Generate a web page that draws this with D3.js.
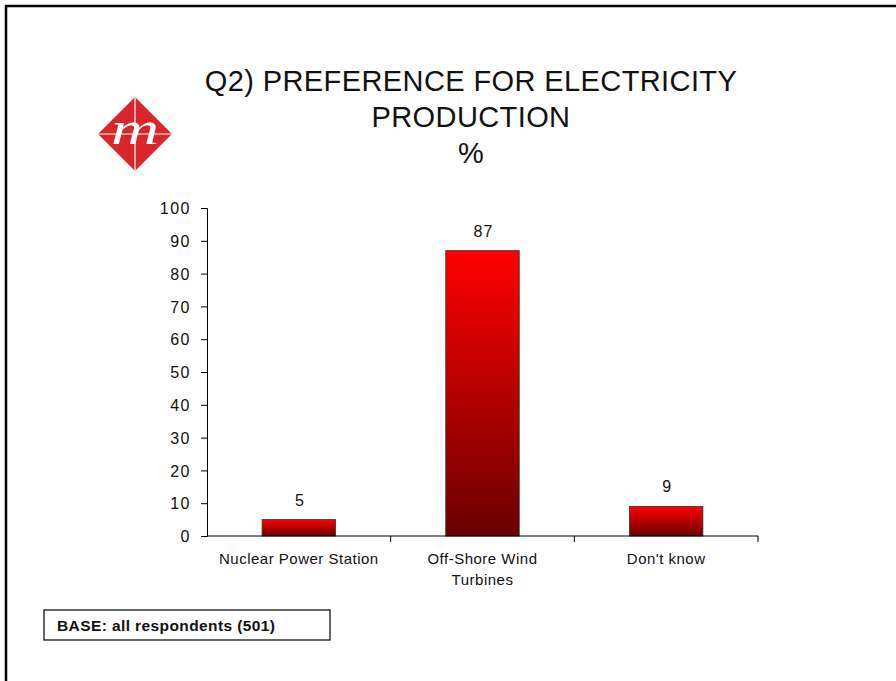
<!DOCTYPE html>
<html>
<head>
<meta charset="utf-8">
<style>
  body { margin: 0; background: #fff; }
  svg text { font-family: "Liberation Sans", Arial, sans-serif; fill: #111; }
</style>
</head>
<body>
<svg id="chart" width="896" height="681"></svg>
<script src="https://cdn.jsdelivr.net/npm/d3@7"></script>
<script>
// data
const categories = ["Nuclear Power Station", "Off-Shore Wind\nTurbines", "Don't know"];
const values = [5, 87, 9];
const yTicks = [0, 10, 20, 30, 40, 50, 60, 70, 80, 90, 100];
const titleLines = ["Q2) PREFERENCE FOR ELECTRICITY", "PRODUCTION", "%"];
const baseNote = "BASE: all respondents (501)";

const svg = d3.select("#chart");

// partial page frame (top and left edges)
svg.append("path")
    .attr("d", "M6,681 V6 H896")
    .attr("fill", "none")
    .attr("stroke", "#000")
    .attr("stroke-width", 2.5);

// gradient for the bars
const defs = svg.append("defs");
const grad = defs.append("linearGradient")
    .attr("id", "barGrad")
    .attr("x1", 0).attr("y1", 0).attr("x2", 0).attr("y2", 1);
grad.append("stop").attr("offset", "0%").attr("stop-color", "#ff0000");
grad.append("stop").attr("offset", "100%").attr("stop-color", "#6a0000");

// title
svg.append("g")
    .selectAll("text")
    .data(titleLines)
    .join("text")
      .attr("x", 471)
      .attr("y", (d, i) => 91 + i * 36)
      .attr("text-anchor", "middle")
      .attr("font-size", 29)
      .attr("letter-spacing", 0.4)
      .text(d => d);

// logo
const logo = svg.append("g").attr("transform", "translate(135,134)");
const r = 37;
logo.append("path")
    .attr("d", `M0,${-r} L${r},0 L0,${r} L${-r},0 Z`)
    .attr("fill", "#d8262b");
logo.append("path")
    .attr("d", `M0,${-r} V${r} M${-r},0 H${r}`)
    .attr("stroke", "#fff")
    .attr("stroke-width", 1.2);
logo.append("text")
    .attr("x", 0)
    .attr("y", 10)
    .attr("text-anchor", "middle")
    .attr("font-size", 46)
    .attr("font-style", "italic")
    .attr("transform", "scale(1.45,1)")
    .style("font-family", "'Liberation Serif', serif")
    .style("fill", "#fff")
    .text("m");

// scales
const x = d3.scaleBand()
    .domain(categories)
    .range([207, 758])
    .paddingInner(0.6)
    .paddingOuter(0.3);

const y = d3.scaleLinear()
    .domain([0, 100])
    .range([536, 208]);

// bars
svg.append("g")
    .selectAll("rect")
    .data(values)
    .join("rect")
      .attr("x", (d, i) => x(categories[i]))
      .attr("y", d => y(d))
      .attr("width", x.bandwidth())
      .attr("height", d => y(0) - y(d))
      .attr("fill", "url(#barGrad)")
      .attr("stroke", "#333")
      .attr("stroke-width", 0.8);

// value labels
svg.append("g")
    .selectAll("text")
    .data(values)
    .join("text")
      .attr("x", (d, i) => x(categories[i]) + x.bandwidth() / 2 + 1)
      .attr("y", d => y(d) - 14)
      .attr("text-anchor", "middle")
      .attr("font-size", 16)
      .attr("letter-spacing", 1)
      .text(d => d);

// y axis
const yAxis = svg.append("g")
    .attr("transform", "translate(207,0)")
    .call(d3.axisLeft(y).tickValues(yTicks).tickSize(6).tickPadding(10));
yAxis.selectAll("text")
    .attr("font-size", 16)
    .attr("letter-spacing", 1.5)
    .attr("dy", "0.36em")
    .style("font-family", null);

// x axis: ticks on band boundaries
const xAxisG = svg.append("g");
xAxisG.append("line")
    .attr("x1", 207).attr("x2", 758)
    .attr("y1", y(0)).attr("y2", y(0))
    .attr("stroke", "#000");
const bounds = d3.range(categories.length + 1).map(i => 207 + i * (758 - 207) / categories.length);
xAxisG.selectAll("line.tick")
    .data(bounds.slice(1))
    .join("line")
      .attr("class", "tick")
      .attr("x1", d => d).attr("x2", d => d)
      .attr("y1", y(0)).attr("y2", y(0) + 6)
      .attr("stroke", "#000");

// category labels
svg.append("g")
    .selectAll("text")
    .data(categories)
    .join("text")
      .attr("x", d => x(d) + x.bandwidth() / 2)
      .attr("y", 564)
      .attr("text-anchor", "middle")
      .attr("font-size", 15)
      .attr("letter-spacing", 0.5)
      .selectAll("tspan")
      .data(d => d.split("\n"))
      .join("tspan")
        .attr("x", function() { return this.parentNode.getAttribute("x"); })
        .attr("dy", (d, i) => i === 0 ? 0 : 21)
        .text(d => d);

// base note
svg.append("rect")
    .attr("x", 44).attr("y", 610)
    .attr("width", 286).attr("height", 30)
    .attr("fill", "#fff")
    .attr("stroke", "#000")
    .attr("stroke-width", 1.2);
svg.append("text")
    .attr("x", 57)
    .attr("y", 631)
    .attr("font-size", 15.5)
    .attr("font-weight", "bold")
    .attr("letter-spacing", 0.4)
    .text(baseNote);
</script>
</body>
</html>
